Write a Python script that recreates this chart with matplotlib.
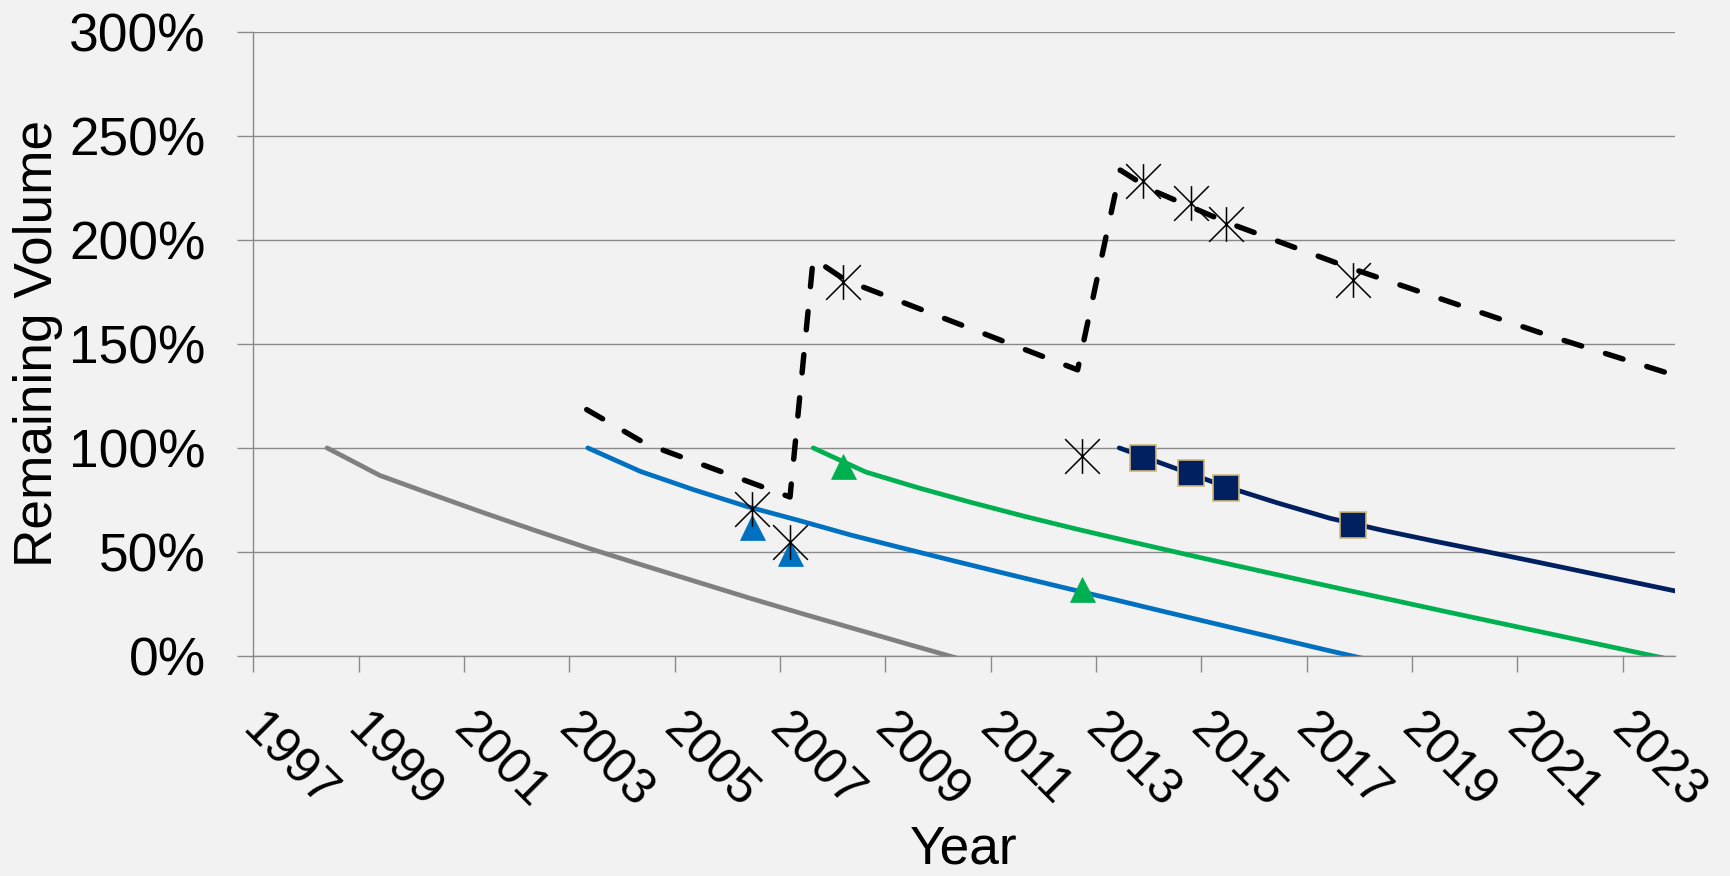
import matplotlib
matplotlib.use("Agg")
import matplotlib.pyplot as plt
from matplotlib.path import Path
from matplotlib.ticker import FixedLocator, FuncFormatter, NullFormatter
import matplotlib.transforms as mtransforms

plt.rcParams['font.family'] = ['Liberation Sans', 'DejaVu Sans']

# ---- data ----
gray_x = [1998.4, 1999.4, 2000.4, 2001.4, 2002.4, 2003.4, 2004.4, 2005.4, 2006.4,
          2007.4, 2008.4, 2009.4, 2010.4]
gray_y = [100, 86.8, 77.6, 68.6, 59.9, 51.5, 43.6, 35.8, 28.0, 20.5, 13.2, 5.9, -1.3]

blue_x = [2003.35, 2004.35, 2005.35, 2006.35, 2007.35, 2008.35, 2009.35, 2010.35,
          2011.35, 2012.35, 2013.35, 2014.35, 2015.35, 2016.35, 2017.35, 2018.35]
blue_y = [100, 88.7, 80.0, 72.0, 65.2, 58.1, 51.7, 45.4, 39.2, 33.1, 27.1, 21.0,
          15.0, 9.0, 3.0, -2.8]

green_x = [2007.63, 2008.63, 2009.63, 2010.63, 2011.63, 2012.63, 2013.63, 2014.63,
           2015.63, 2016.63, 2017.63, 2018.63, 2019.63, 2020.63, 2021.63, 2022.63,
           2023.63, 2024.63]
green_y = [100, 88.4, 80.8, 73.8, 67.2, 61.0, 55.1, 49.3, 43.6, 38.0, 32.4, 26.9,
           21.4, 16.0, 10.6, 5.2, -0.2, -5.4]

navy_x = [2013.44, 2014.44, 2015.44, 2016.44, 2017.44, 2018.44, 2019.44, 2020.44,
          2021.44, 2022.44, 2023.44, 2024.44]
navy_y = [100, 90.8, 81.6, 73.6, 66.2, 60.4, 55.1, 50.0, 44.8, 39.5, 34.2, 28.9]

total_x = [2003.33, 2004.45, 2007.19, 2007.63, 2008.25, 2012.65, 2013.46, 2014.06,
           2015.47, 2017.82, 2021.65, 2024.0]
total_y = [118.4, 102.0, 76.4, 191.0, 180.5, 137.5, 233.5, 223.9, 208.5, 186.5,
           153.5, 134.8]

blue_tri_x = [2006.46, 2007.19]
blue_tri_y = [62.1, 49.5]
green_tri_x = [2008.20, 2012.73]
green_tri_y = [91.2, 32.1]
square_x = [2013.89, 2014.80, 2015.47, 2017.88]
square_y = [95.3, 88.1, 80.9, 62.9]
star_x = [2006.46, 2007.19, 2008.20, 2012.73, 2013.89, 2014.81, 2015.47, 2017.88]
star_y = [70.4, 54.7, 179.6, 96.1, 228.1, 217.5, 207.4, 180.9]

year_ticks = [1997, 1999, 2001, 2003, 2005, 2007, 2009, 2011, 2013, 2015, 2017,
              2019, 2021, 2023]
year_labels = [str(y) for y in year_ticks]
pct_ticks = [0, 50, 100, 150, 200, 250, 300]

# ---- figure ----
BG = '#f2f2f2'
GRID = '#8a8a8a'
FS = 38.3
fig = plt.figure(figsize=(17.3, 8.76), dpi=100, facecolor=BG)
ax = fig.add_axes([253.3 / 1730, (876 - 656) / 876, (1675.4 - 253.3) / 1730,
                   (656 - 31.7) / 876])
ax.set_facecolor(BG)

lw = 3.4
ax.plot(gray_x, gray_y, color='#808080', lw=lw, zorder=2, solid_capstyle='round')
ax.plot(blue_x, blue_y, color='#0070C0', lw=lw, zorder=2, solid_capstyle='round')
ax.plot(green_x, green_y, color='#00B050', lw=lw, zorder=2, solid_capstyle='round')
ax.plot(navy_x, navy_y, color='#002060', lw=lw, zorder=2, solid_capstyle='round')

ax.plot(blue_tri_x, blue_tri_y, ls='none', marker='^', ms=18, color='#0070C0',
        mec='#0070C0', mew=0.5, zorder=3)
ax.plot(green_tri_x, green_tri_y, ls='none', marker='^', ms=18, color='#00B050',
        mec='#00B050', mew=0.5, zorder=3)
ax.plot(square_x, square_y, ls='none', marker='s', ms=18.2, color='#002060',
        mec='#D2B67A', mew=1.2, zorder=3)

star = Path([(0, -1), (0, 1), (-1, -1), (1, 1), (-1, 1), (1, -1)],
            [Path.MOVETO, Path.LINETO, Path.MOVETO, Path.LINETO, Path.MOVETO, Path.LINETO])
ax.plot(star_x, star_y, ls='none', marker=star, ms=25, mfc='none', mec='black',
        mew=1.1, zorder=4)

ax.plot(total_x, total_y, color='black', lw=3.9, dashes=(3.4, 4.6),
        dash_capstyle='round', zorder=5)

ax.set_xlim(1997, 2024)
ax.set_ylim(0, 300)

ax.yaxis.set_major_locator(FixedLocator(pct_ticks))
ax.yaxis.set_major_formatter(FuncFormatter(lambda v, p: f"{int(v)}%"))
ax.xaxis.set_major_locator(FixedLocator(year_ticks))
ax.xaxis.set_major_formatter(NullFormatter())

ax.grid(axis='y', color=GRID, lw=1.0, zorder=1)
ax.set_axisbelow(True)
for s in ['top', 'right']:
    ax.spines[s].set_visible(False)
for s in ['left', 'bottom']:
    ax.spines[s].set_color(GRID)
    ax.spines[s].set_linewidth(1.0)

ax.tick_params(axis='y', direction='out', length=11.2, width=1.0, color=GRID,
               labelsize=FS, pad=23)
ax.tick_params(axis='x', direction='out', length=11.2, width=1.0, color=GRID)

# rotated year labels, placed under each tick
base = mtransforms.blended_transform_factory(ax.transData, ax.transAxes)
off = mtransforms.ScaledTranslation(-20 / 100, 0, fig.dpi_scale_trans)
for yr, lab in zip(year_ticks, year_labels):
    ax.text(yr, -0.080, lab, transform=base + off, rotation=-45, ha='left',
            va='top', fontsize=36, clip_on=False)

fig.text(964 / 1730, 1 / 876, 'Year', ha='center', va='bottom', fontsize=FS)
fig.text(13 / 1730, 1 - 343 / 876, 'Remaining Volume', rotation=90, ha='left',
         va='center', fontsize=FS)

fig.savefig('out.png', dpi=100, facecolor=BG)
